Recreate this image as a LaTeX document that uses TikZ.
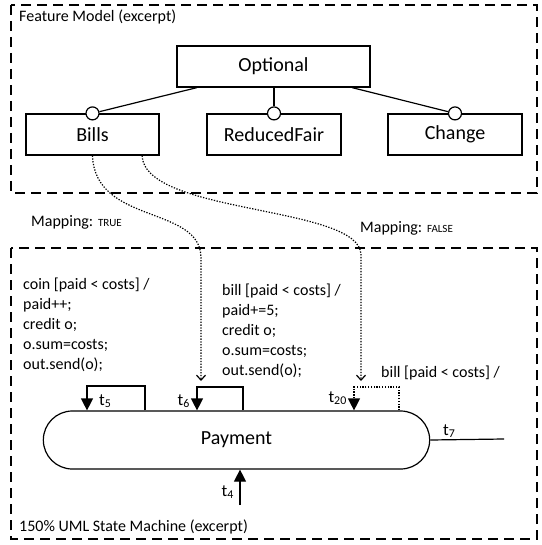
\documentclass[tikz,border=0pt]{standalone}
\usepackage{fontspec}
\setmainfont{Carlito}
\usetikzlibrary{arrows.meta,shapes.misc,calc}
\begin{document}
\begin{tikzpicture}[x=1pt,y=-1pt,
  frame/.style={draw,line width=1.2pt,dash pattern=on 10pt off 6pt},
  feat/.style={draw,line width=1.2pt,minimum height=41pt,inner sep=0pt,font=\fontsize{20}{24}\selectfont},
  circ/.style={draw,circle,fill=white,line width=1.2pt,minimum size=13pt,inner sep=0pt},
  edge/.style={line width=1.2pt},
  txt/.style={font=\fontsize{16}{20}\selectfont,inner sep=0pt,align=left},
  tl/.style={font=\fontsize{17}{20}\selectfont,inner sep=0pt},
  map/.style={line width=1.2pt,dash pattern=on 1.3pt off 1.5pt},
  tr/.style={line width=1.2pt,-{Triangle[width=12pt,length=12pt]}},
  openarr/.style={-{Straight Barb[length=5pt,width=9pt]}}
]
\useasboundingbox (0,0) rectangle (541,545);
% frames
\draw[frame] (11,5) rectangle (537,193);
\draw[frame] (11,248) rectangle (537,539);
\node[txt,anchor=west] (fmtitle) at (19,17) {Feature Model (excerpt)};
\node[txt,anchor=west] (smtitle) at (19,527) {150\% UML State Machine (excerpt)};
% feature tree
\node[feat,minimum width=193pt] (opt) at (273.5,66.5) {Optional};
\node[feat,minimum width=133pt] (bills) at (92.5,134.5) {Bills};
\node[feat,minimum width=134pt] (rf) at (274,134.5) {ReducedFair};
\node[feat,minimum width=134pt] (ch) at (455,134.5) {Change};
\node[circ] (cb) at (bills.north) {};
\node[circ] (crf) at (rf.north) {};
\node[circ] (cch) at (ch.north) {};
\draw[edge] ([xshift=-76.5pt]opt.south) -- (cb);
\draw[edge] (opt.south -| crf) -- (crf);
\draw[edge] ([xshift=78.5pt]opt.south) -- (cch);
% mapping labels
\node[txt,anchor=west] (mt) at (31,222) {Mapping: {\fontsize{11}{13}\selectfont TRUE}};
\node[txt,anchor=west] (mf) at (360,228) {Mapping: {\fontsize{11}{13}\selectfont FALSE}};
% state
\node[rounded rectangle,draw,line width=1.2pt,minimum width=393pt,minimum height=58pt,font=\fontsize{20}{24}\selectfont] (pay) at (236.5,440) {Payment};
% mapping arrows
\coordinate (m1) at (201,381);
\coordinate (m2) at (361,381);
\draw[map,openarr] (bills.south) .. controls (95,225) and (201,205) .. (201,258) -- (m1);
\draw[map,openarr] ([xshift=49.5pt]bills.south) .. controls (145,215) and (361,205) .. (361,255) -- (m2);
% transition texts
\node[txt,anchor=north west] (tx5) at (23,278) {coin [paid < costs] /\\paid++;\\credit o;\\o.sum=costs;\\out.send(o);};
\node[txt,anchor=north west] (tx6) at (222,284) {bill [paid < costs] /\\paid+=5;\\credit o;\\o.sum=costs;\\out.send(o);};
\node[txt,anchor=west] (tx20) at (381,373) {bill [paid < costs] /};
% t5 loop
\coordinate (a5) at (145,386);
\coordinate (b5) at (87,386);
\draw[tr] (a5 |- pay.north) -- (a5) -- (b5) -- (b5 |- pay.north);
\node[tl,anchor=west] (l5) at (99,401) {t\textsubscript{5}};
% t6 loop
\coordinate (a6) at (243,387);
\coordinate (b6) at (197,387);
\draw[tr] (a6 |- pay.north) -- (a6) -- (b6) -- (b6 |- pay.north);
\node[tl,anchor=east] (l6) at (190,401) {t\textsubscript{6}};
% t20 loop
\coordinate (a20) at (399,387);
\coordinate (b20) at (354,387);
\draw[tr,dash pattern=on 1.3pt off 1.5pt] (a20 |- pay.north) -- (a20) -- (b20) -- (b20 |- pay.north);
\node[tl,anchor=east] (l20) at (347,398) {t\textsubscript{20}};
% t7
\coordinate (e7) at (504,439);
\draw[edge] (pay.east) -- (e7);
\node[tl,anchor=west] (l7) at (443,431) {t\textsubscript{7}};
% t4
\coordinate (s4) at (240,505);
\draw[tr] (s4) -- (s4 |- pay.south);
\node[tl,anchor=east] (l4) at (234,492) {t\textsubscript{4}};
\end{tikzpicture}
\end{document}
